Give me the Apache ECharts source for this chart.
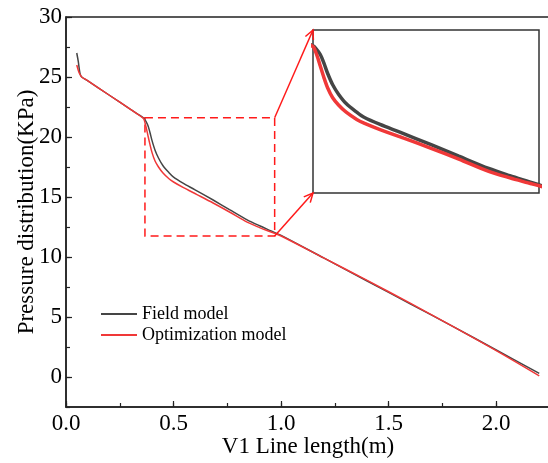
<!DOCTYPE html>
<html>
<head>
<meta charset="utf-8">
<script src="https://cdn.jsdelivr.net/npm/echarts@6/dist/echarts.min.js"></script>
<style>
html, body { margin: 0; padding: 0; background: #fff; }
#container { width: 548px; height: 463px; }
</style>
</head>
<body>
<div id="container"></div>
<script>
// field model curve
var fieldX = [0.05, 0.057, 0.065, 0.073, 0.1, 0.2, 0.3, 0.36, 0.367, 0.38, 0.39, 0.40, 0.414, 0.43, 0.451, 0.48, 0.5, 0.544, 0.6, 0.684, 0.76, 0.842, 0.9, 0.95, 1.0, 1.2, 1.4, 1.6, 1.8, 2.0, 2.2];
var fieldY = [27.0, 26.3, 25.3, 25.0, 24.7, 23.5, 22.3, 21.6, 21.45, 21.0, 20.4, 19.7, 18.9, 18.25, 17.6, 17.0, 16.65, 16.15, 15.6, 14.75, 13.95, 13.1, 12.6, 12.2, 11.8, 9.9, 8.0, 6.1, 4.2, 2.25, 0.3];
// optimization model curve
var optX = [0.05, 0.06, 0.067, 0.073, 0.1, 0.2, 0.3, 0.36, 0.367, 0.374, 0.38, 0.39, 0.40, 0.414, 0.43, 0.451, 0.48, 0.5, 0.544, 0.609, 0.684, 0.76, 0.842, 0.9, 0.95, 1.0, 1.2, 1.4, 1.6, 1.8, 2.0, 2.2];
var optY = [26.0, 25.4, 25.15, 25.0, 24.7, 23.5, 22.3, 21.55, 21.2, 20.7, 20.2, 19.4, 18.7, 18.0, 17.5, 17.0, 16.5, 16.25, 15.8, 15.2, 14.5, 13.75, 12.9, 12.45, 12.1, 11.75, 9.9, 8.05, 6.15, 4.2, 2.2, 0.1];

var xTicks = [0, 0.5, 1.0, 1.5, 2.0];
var yTicks = [0, 5, 10, 15, 20, 25, 30];
// dashed zoom box (x0, x1, y0, y1) and inset axis range
var zoomBox = [0.367, 0.97, 11.75, 21.6];
var insetRange = [0.36, 0.98, 11.4, 22.7];

function pairs(xs, ys) {
    var res = [];
    for (var i = 0; i < xs.length; i++) {
        res.push([xs[i], ys[i]]);
    }
    return res;
}

var gray = '#454545';
var red = '#f03838';
var font = 'Liberation Serif';

var myChart = echarts.init(document.getElementById('container'));
var option = {
    backgroundColor: '#fff',
    animation: false,
    textStyle: { fontFamily: font },
    grid: [
        { left: 66, top: 17, width: 484, height: 390, outerBoundsMode: 'none', show: true, borderColor: '#222', borderWidth: 1.5 },
        { left: 313, top: 30, width: 226, height: 163, outerBoundsMode: 'none', show: true, borderColor: '#333', borderWidth: 1.5, backgroundColor: '#fff' }
    ],
    legend: {
        orient: 'vertical',
        left: 96,
        top: 300,
        itemWidth: 36,
        itemHeight: 2,
        itemGap: 3,
        icon: 'rect',
        data: ['Field model', 'Optimization model'],
        textStyle: { fontFamily: font, fontSize: 18, color: '#000' }
    },
    xAxis: [
        {
            gridIndex: 0, type: 'value', min: 0, max: 2.25, position: 'bottom',
            name: 'V1 Line length(m)', nameLocation: 'middle', nameGap: 28, nameMoveOverlap: false,
            nameTextStyle: { fontFamily: font, fontSize: 23, color: '#000' },
            axisLine: { onZero: false, lineStyle: { color: '#222', width: 1.5 } },
            axisTick: { inside: true, length: 6, customValues: xTicks, lineStyle: { color: '#222', width: 1.2 } },
            axisLabel: {
                customValues: xTicks, margin: 5, fontFamily: font, fontSize: 23, color: '#000',
                formatter: function (v) { return v.toFixed(1); }
            },
            splitLine: { show: false }
        },
        {
            gridIndex: 0, type: 'value', min: 0, max: 2.25, interval: 0.25, position: 'bottom',
            axisLine: { show: false, onZero: false },
            axisTick: { inside: true, length: 4, lineStyle: { color: '#222', width: 1.2 } },
            axisLabel: { show: false },
            splitLine: { show: false }
        },
        { gridIndex: 1, type: 'value', min: insetRange[0], max: insetRange[1], show: false, splitLine: { show: false } }
    ],
    yAxis: [
        {
            gridIndex: 0, type: 'value', min: -2.5, max: 30, position: 'left',
            name: 'Pressure distribution(KPa)', nameLocation: 'middle', nameGap: 28, nameMoveOverlap: false,
            nameTextStyle: { fontFamily: font, fontSize: 23, color: '#000' },
            axisLine: { onZero: false, lineStyle: { color: '#222', width: 1.5 } },
            axisTick: { inside: true, length: 6, customValues: yTicks, lineStyle: { color: '#222', width: 1.2 } },
            axisLabel: { customValues: yTicks, margin: 4, fontFamily: font, fontSize: 23, color: '#000' },
            splitLine: { show: false }
        },
        {
            gridIndex: 0, type: 'value', min: -2.5, max: 30, interval: 2.5, position: 'left',
            axisLine: { show: false, onZero: false },
            axisTick: { inside: true, length: 4, lineStyle: { color: '#222', width: 1.2 } },
            axisLabel: { show: false },
            splitLine: { show: false }
        },
        { gridIndex: 1, type: 'value', min: insetRange[2], max: insetRange[3], show: false, splitLine: { show: false } }
    ],
    series: [
        {
            name: 'Field model', type: 'line', xAxisIndex: 0, yAxisIndex: 0,
            data: pairs(fieldX, fieldY), symbol: 'none', smooth: 0.3,
            color: gray, lineStyle: { color: gray, width: 1.5 },
            markArea: {
                silent: true,
                itemStyle: { color: 'rgba(0,0,0,0)', borderColor: '#ff1a1a', borderWidth: 1.5, borderType: [8, 5] },
                data: [[{ coord: [zoomBox[0], zoomBox[3]] }, { coord: [zoomBox[1], zoomBox[2]] }]]
            }
        },
        {
            name: 'Optimization model', type: 'line', xAxisIndex: 0, yAxisIndex: 0,
            data: pairs(optX, optY), symbol: 'none', smooth: 0.3,
            color: red, lineStyle: { color: red, width: 1.5 }
        },
        {
            name: 'Field model', type: 'line', xAxisIndex: 2, yAxisIndex: 2,
            data: pairs(fieldX, fieldY), symbol: 'none', smooth: 0.3, clip: true,
            color: gray, lineStyle: { color: gray, width: 3.5 }
        },
        {
            name: 'Optimization model', type: 'line', xAxisIndex: 2, yAxisIndex: 2,
            data: pairs(optX, optY), symbol: 'none', smooth: 0.3, clip: true,
            color: red, lineStyle: { color: red, width: 3.5 }
        }
    ]
};
myChart.setOption(option, true);

// arrows from the dashed box to the inset
function arrow(p1, p2) {
    var ang = Math.atan2(p2[1] - p1[1], p2[0] - p1[0]);
    var len = 10, spread = 0.45;
    var l = [p2[0] - len * Math.cos(ang - spread), p2[1] - len * Math.sin(ang - spread)];
    var r = [p2[0] - len * Math.cos(ang + spread), p2[1] - len * Math.sin(ang + spread)];
    return [
        { type: 'line', shape: { x1: p1[0], y1: p1[1], x2: p2[0], y2: p2[1] }, style: { stroke: '#ff1a1a', lineWidth: 1.5 }, z: 100 },
        { type: 'polyline', shape: { points: [l, p2, r] }, style: { stroke: '#ff1a1a', lineWidth: 1.5, fill: null }, z: 100 }
    ];
}
var mainFinder = { xAxisIndex: 0, yAxisIndex: 0 };
var insetFinder = { xAxisIndex: 2, yAxisIndex: 2 };
var topFrom = myChart.convertToPixel(mainFinder, [zoomBox[1], zoomBox[3]]);
var topTo = myChart.convertToPixel(insetFinder, [insetRange[0], insetRange[3]]);
var botFrom = myChart.convertToPixel(mainFinder, [zoomBox[1], zoomBox[2]]);
var botTo = myChart.convertToPixel(insetFinder, [insetRange[0], insetRange[2]]);
myChart.setOption({ graphic: arrow(topFrom, topTo).concat(arrow(botFrom, botTo)) });
</script>
</body>
</html>
